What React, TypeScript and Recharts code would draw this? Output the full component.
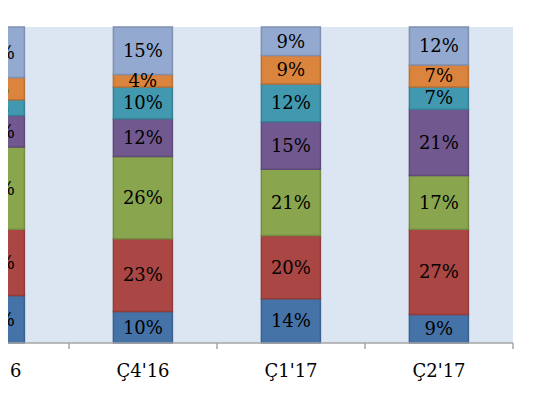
import { BarChart, Bar, XAxis, YAxis, CartesianGrid, LabelList } from "recharts";

const QUARTERS = ["Ç3'16", "Ç4'16", "Ç1'17", "Ç2'17"];

// shares per quarter, bottom to top of each stack
const BLUE = [15, 10, 14, 9];
const RED = [21, 23, 20, 27];
const GREEN = [26, 26, 21, 17];
const PURPLE = [10, 12, 15, 21];
const TEAL = [5, 10, 12, 7];
const ORANGE = [7, 4, 9, 7];
const LIGHT_BLUE = [16, 15, 9, 12];

const SERIES = [
  { key: "blue", values: BLUE, fill: "#4572a7", stroke: "#3a6192" },
  { key: "red", values: RED, fill: "#aa4643", stroke: "#923c39" },
  { key: "green", values: GREEN, fill: "#89a54e", stroke: "#758d43" },
  { key: "purple", values: PURPLE, fill: "#71588f", stroke: "#5f4a79" },
  { key: "teal", values: TEAL, fill: "#4198af", stroke: "#378196" },
  { key: "orange", values: ORANGE, fill: "#db843d", stroke: "#bb7034" },
  { key: "lightBlue", values: LIGHT_BLUE, fill: "#93a9cf", stroke: "#8090b0" },
];

const data = QUARTERS.map((q, i) => {
  const row: Record<string, string | number> = { quarter: q };
  SERIES.forEach((s) => {
    row[s.key] = s.values[i];
  });
  return row;
});

const FONT = "'DejaVu Serif', serif";

const CHART_W = 640;
const MARGIN = { top: 27, right: 27, left: 21, bottom: 0 };
// half a category slot: tick marks sit on the boundaries between quarters
const HALF_SLOT = (CHART_W - MARGIN.left - MARGIN.right) / QUARTERS.length / 2;

function QuarterTick({ x, y, payload }: { x?: number; y?: number; payload?: { value: string } }) {
  if (x == null || y == null) return null;
  return (
    <g>
      <line
        x1={x + HALF_SLOT}
        x2={x + HALF_SLOT}
        y1={y}
        y2={y + 6}
        stroke="#a6a6a6"
        strokeWidth={1.5}
      />
      <text
        x={x}
        y={y + 34}
        textAnchor="middle"
        fill="#000"
        fontSize={18}
        fontFamily={FONT}
      >
        {payload?.value}
      </text>
    </g>
  );
}

export default function App() {
  return (
    <div
      style={{
        margin: -8,
        width: 534,
        height: 397,
        overflow: "hidden",
        position: "relative",
        background: "#fff",
      }}
    >
      <div style={{ position: "absolute", left: -100, top: 0 }}>
        <BarChart
          width={CHART_W}
          height={397}
          data={data}
          margin={MARGIN}
          barCategoryGap="30%"
        >
          <CartesianGrid fill="#dce6f2" stroke="none" />
          <XAxis
            dataKey="quarter"
            height={54}
            axisLine={{ stroke: "#a6a6a6", strokeWidth: 1.5 }}
            tickLine={false}
            tickSize={0}
            tickMargin={0}
            interval={0}
            tick={<QuarterTick />}
          />
          <YAxis hide domain={[0, 100]} />
          {SERIES.map((s) => (
            <Bar
              key={s.key}
              dataKey={s.key}
              stackId="a"
              fill={s.fill}
              stroke={s.stroke}
              strokeWidth={1.5}
              isAnimationActive={false}
            >
              <LabelList
                dataKey={s.key}
                position="center"
                formatter={(v: number) => `${v}%`}
                fill="#000"
                fontSize={18}
                fontFamily={FONT}
              />
            </Bar>
          ))}
        </BarChart>
      </div>
    </div>
  );
}
